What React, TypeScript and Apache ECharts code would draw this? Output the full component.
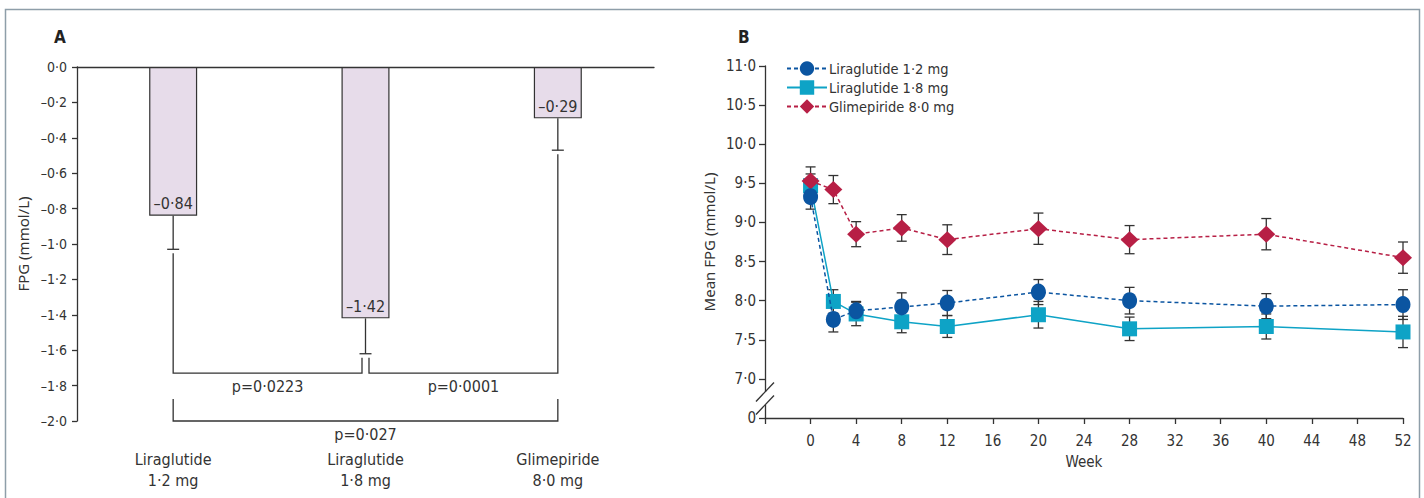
import React, { useEffect, useRef } from 'react';
import * as echarts from 'echarts';

// ---------- Panel A data ----------
const categories = ['Liraglutide\n1·2 mg', 'Liraglutide\n1·8 mg', 'Glimepiride\n8·0 mg'];
const barValues = [-0.84, -1.42, -0.29];
const barErrors = [0.19, 0.2, 0.18];
const barLabels = ['–0·84', '–1·42', '–0·29'];
const pairFrom = [0, 1, 0];
const pairTo = [1, 2, 2];
const pairLevel = [-1.73, -1.73, -2.0];
const pairLegTop: (number | null)[] = [null, null, -1.875];
const pairLabels = ['p=0·0223', 'p=0·0001', 'p=0·027'];

// ---------- Panel B data ----------
const weeks = [0, 2, 4, 8, 12, 20, 28, 40, 52];
const seriesNames = ['Liraglutide 1·2 mg', 'Liraglutide 1·8 mg', 'Glimepiride 8·0 mg'];
const lira12 = [9.33, 7.76, 7.87, 7.92, 7.97, 8.11, 8.0, 7.93, 7.95];
const lira12Err = [0.16, 0.16, 0.12, 0.18, 0.16, 0.16, 0.17, 0.16, 0.19];
const lira18 = [9.47, 7.99, 7.83, 7.73, 7.67, 7.82, 7.64, 7.67, 7.6];
const lira18Err = [0.15, 0.15, 0.15, 0.14, 0.14, 0.17, 0.15, 0.16, 0.2];
const glim = [9.53, 9.42, 8.85, 8.93, 8.78, 8.92, 8.78, 8.85, 8.55];
const glimErr = [0.18, 0.18, 0.16, 0.17, 0.19, 0.2, 0.18, 0.2, 0.2];
const breakAt = 6.75;

const COND = "'Liberation Sans Narrow', 'DejaVu Sans Condensed', 'Noto Sans', sans-serif";
const REG = "'Noto Sans', 'Open Sans', sans-serif";
const INK = '#333333';

const fmtA = (v: number) => (v < -1e-9 ? '–' : '') + Math.abs(v).toFixed(1).replace('.', '·');
const fmtB = (v: number) => (Math.abs(v - 6.5) < 1e-6 ? '0' : v.toFixed(1).replace('.', '·'));

export default function App() {
  const ref = useRef<HTMLDivElement>(null);
  useEffect(() => {
    if (!ref.current) return;
    const chart = echarts.init(ref.current, undefined, { renderer: 'svg' });

    const errorBarItem = (cap: number, gapFromValue: boolean) => (params: any, api: any) => {
      const x = api.value(0);
      const v = api.value(1);
      const e = api.value(2);
      const lo = api.coord([x, v - e]);
      const hi = api.coord([x, gapFromValue ? v : v + e]);
      const st = { stroke: INK, lineWidth: 1.3 };
      const children: any[] = [
        { type: 'line', shape: { x1: lo[0], y1: lo[1], x2: hi[0], y2: hi[1] }, style: st },
        { type: 'line', shape: { x1: lo[0] - cap, y1: lo[1], x2: lo[0] + cap, y2: lo[1] }, style: st },
      ];
      if (!gapFromValue) {
        children.push({ type: 'line', shape: { x1: hi[0] - cap, y1: hi[1], x2: hi[0] + cap, y2: hi[1] }, style: st });
      }
      return { type: 'group', children };
    };

    const bracketItem = (params: any, api: any) => {
      const k = api.value(3);
      const f = pairFrom[k];
      const t = pairTo[k];
      const level = pairLevel[k];
      const shareL = pairLevel.some((l, j) => j !== k && l === level && pairTo[j] === f);
      const shareR = pairLevel.some((l, j) => j !== k && l === level && pairFrom[j] === t);
      const pl = api.coord([f, level]);
      const pr = api.coord([t, level]);
      const xl = pl[0] + (shareL ? 3.5 : 0);
      const xr = pr[0] - (shareR ? 3.5 : 0);
      const legTop = (i: number) => {
        const lt = pairLegTop[k];
        if (lt !== null) return api.coord([i, lt])[1];
        return api.coord([i, barValues[i] - barErrors[i]])[1] + 4;
      };
      const st = { stroke: INK, lineWidth: 1.3, fill: 'none' };
      return {
        type: 'group',
        children: [
          {
            type: 'polyline',
            shape: { points: [[xl, legTop(f)], [xl, pl[1]], [xr, pr[1]], [xr, legTop(t)]] },
            style: st,
          },
          {
            type: 'text',
            x: (xl + xr) / 2,
            y: pl[1] + 13,
            style: {
              text: pairLabels[k],
              fill: INK,
              font: `16px ${COND}`,
              textAlign: 'center',
              textVerticalAlign: 'middle',
            },
          },
        ],
      };
    };

    const breakItem = (params: any, api: any) => {
      const p = api.coord([api.value(0), api.value(1)]);
      const st = { stroke: INK, lineWidth: 1.3 };
      return {
        type: 'group',
        children: [
          { type: 'rect', shape: { x: p[0] - 2, y: p[1] - 6.5, width: 4, height: 13 }, style: { fill: '#fff' } },
          { type: 'line', shape: { x1: p[0] - 9, y1: p[1] - 6.5 + 9.5, x2: p[0] + 9, y2: p[1] - 6.5 - 9.5 }, style: st },
          { type: 'line', shape: { x1: p[0] - 9, y1: p[1] + 6.5 + 9.5, x2: p[0] + 9, y2: p[1] + 6.5 - 9.5 }, style: st },
        ],
      };
    };

    const colors = ['#0b55a1', '#0ea3c6', '#b71f45'];
    const vals = [lira12, lira18, glim];
    const errs = [lira12Err, lira18Err, glimErr];
    const symbols = ['circle', 'rect', 'diamond'];
    const symSizes: any[] = [[15, 17], 15, [18, 17]];
    const lineTypes: any[] = [[4, 3], 'solid', [4, 3]];
    const zs = [5, 3, 4];

    const lineSeries = vals.map((arr, s) => ({
      type: 'line',
      name: seriesNames[s],
      xAxisIndex: 2,
      yAxisIndex: 1,
      data: weeks.map((w, i) => [w, arr[i]]),
      symbol: symbols[s],
      symbolSize: symSizes[s],
      itemStyle: { color: colors[s] },
      lineStyle: { color: colors[s], width: 1.5, type: lineTypes[s] },
      z: zs[s],
    }));

    const errSeries = vals.map((arr, s) => ({
      type: 'custom',
      xAxisIndex: 2,
      yAxisIndex: 1,
      data: weeks.map((w, i) => [w, arr[i], errs[s][i]]),
      renderItem: errorBarItem(5, false),
      z: 2,
      silent: true,
    }));

    const axisLineStyle = { color: INK, width: 1.3 };

    chart.setOption({
      animation: false,
      textStyle: { fontFamily: COND },
      grid: [
        { left: 77, top: 67, width: 577, height: 354 },
        { left: 765, top: 66, right: 21, bottom: 80 },
      ],
      xAxis: [
        {
          type: 'category',
          gridIndex: 0,
          position: 'top',
          data: categories,
          axisLine: { onZero: false, lineStyle: axisLineStyle },
          axisTick: { inside: true, length: 6, lineStyle: axisLineStyle },
          axisLabel: { show: false },
        },
        {
          type: 'category',
          gridIndex: 0,
          position: 'bottom',
          data: categories,
          axisLine: { show: false, onZero: false },
          axisTick: { show: false },
          axisLabel: { margin: 28, lineHeight: 21, fontSize: 16, color: INK, fontFamily: COND },
        },
        {
          type: 'value',
          gridIndex: 1,
          min: -4,
          max: 52,
          interval: 4,
          name: 'Week',
          nameLocation: 'middle',
          nameGap: 36,
          nameTextStyle: { fontSize: 15, color: INK, fontFamily: COND },
          splitLine: { show: false },
          axisLine: { onZero: false, lineStyle: axisLineStyle },
          axisTick: { length: 6, lineStyle: axisLineStyle },
          axisLabel: {
            margin: 15,
            fontSize: 15,
            color: INK,
            fontFamily: COND,
            formatter: (v: number) => (v < 0 ? '' : String(v)),
          },
        },
      ],
      yAxis: [
        {
          type: 'value',
          gridIndex: 0,
          min: -2,
          max: 0,
          interval: 0.2,
          name: 'FPG (mmol/L)',
          nameLocation: 'middle',
          nameGap: 47,
          nameTextStyle: { fontSize: 15, color: INK, fontFamily: REG },
          splitLine: { show: false },
          axisLine: { show: true, onZero: false, lineStyle: axisLineStyle },
          axisTick: { show: true, length: 5, lineStyle: axisLineStyle },
          axisLabel: { margin: 10, fontSize: 14, color: INK, fontFamily: COND, formatter: fmtA },
        },
        {
          type: 'value',
          gridIndex: 1,
          min: 6.5,
          max: 11,
          interval: 0.5,
          name: 'Mean FPG (mmol/L)',
          nameLocation: 'middle',
          nameGap: 49,
          nameTextStyle: { fontSize: 15, color: INK, fontFamily: REG },
          splitLine: { show: false },
          axisLine: { show: true, onZero: false, lineStyle: axisLineStyle },
          axisTick: { show: true, length: 6, lineStyle: axisLineStyle },
          axisLabel: { margin: 9, fontSize: 15, color: INK, fontFamily: COND, formatter: fmtB },
        },
      ],
      legend: {
        orient: 'vertical',
        left: 781,
        top: 56,
        itemWidth: 40,
        itemHeight: 18,
        itemGap: 4,
        data: seriesNames,
        textStyle: { fontSize: 14.5, color: INK, fontFamily: COND, padding: [0, 0, 0, -3] },
      },
      graphic: [
        {
          type: 'rect',
          shape: { x: 5.5, y: 9.5, width: 1414, height: 520 },
          style: { fill: 'none', stroke: '#8e9ea9', lineWidth: 1.5 },
          silent: true,
        },
        { type: 'text', left: 54, top: 28, style: { text: 'A', font: `bold 17px ${COND}`, fill: '#222' } },
        { type: 'text', left: 738, top: 28, style: { text: 'B', font: `bold 17px ${COND}`, fill: '#222' } },
      ],
      series: [
        {
          type: 'bar',
          xAxisIndex: 0,
          yAxisIndex: 0,
          data: barValues,
          barWidth: 48,
          itemStyle: { color: '#e7dcea', borderColor: INK, borderWidth: 1.2 },
          label: {
            show: true,
            position: 'insideBottom',
            distance: 4,
            fontSize: 16,
            color: INK,
            fontFamily: COND,
            formatter: (p: any) => barLabels[p.dataIndex],
          },
          z: 2,
        },
        {
          type: 'custom',
          xAxisIndex: 0,
          yAxisIndex: 0,
          data: barValues.map((v, i) => [i, v, barErrors[i]]),
          renderItem: errorBarItem(6, true),
          z: 3,
          silent: true,
        },
        {
          type: 'custom',
          xAxisIndex: 0,
          yAxisIndex: 0,
          data: pairFrom.map((f, k) => [f, pairTo[k], pairLevel[k], k]),
          renderItem: bracketItem,
          z: 3,
          silent: true,
        },
        ...errSeries,
        ...lineSeries,
        {
          type: 'custom',
          xAxisIndex: 2,
          yAxisIndex: 1,
          data: [[-4, breakAt]],
          renderItem: breakItem,
          z: 6,
          silent: true,
        },
      ],
    });
    return () => chart.dispose();
  }, []);
  return (
    <div
      ref={ref}
      style={{ position: 'fixed', left: 0, top: 0, width: 1424, height: 498, background: '#fff' }}
    />
  );
}
